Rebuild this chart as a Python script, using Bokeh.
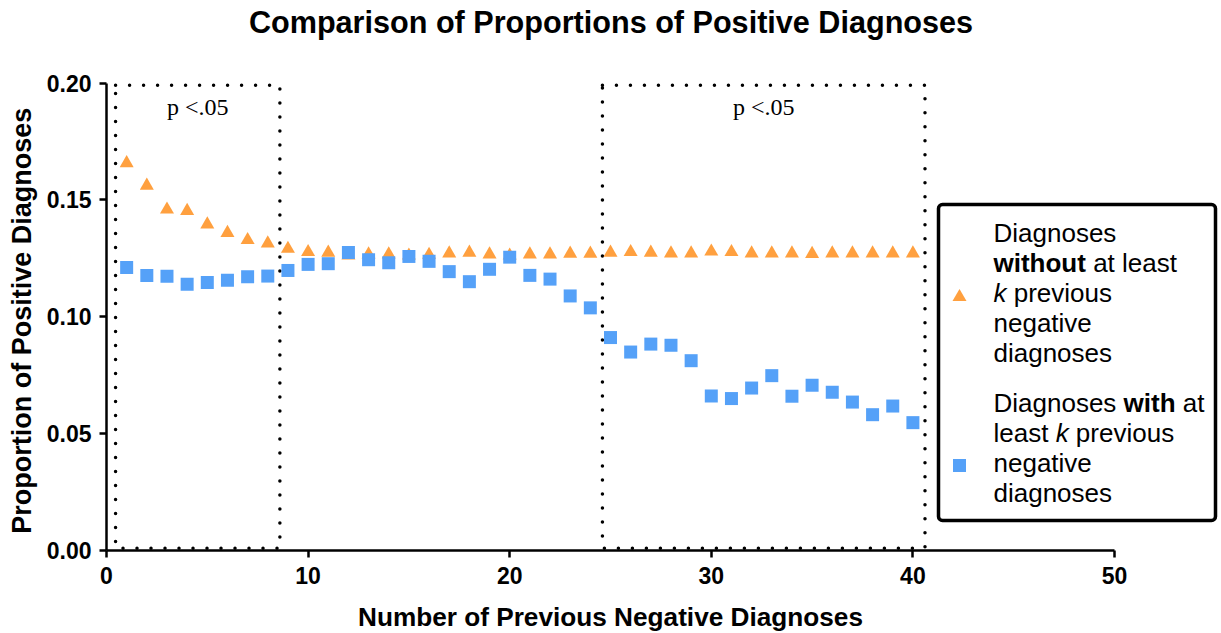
from bokeh.plotting import figure
from bokeh.models import Range1d, FixedTicker, NumeralTickFormatter, ColumnDataSource, BoxAnnotation
from bokeh.core.properties import value
from bokeh.embed import file_html
from bokeh.resources import INLINE

# ---------------- data ----------------
k_values = list(range(1, 41))
without_k = [0.1657, 0.1561, 0.1459, 0.1453, 0.1395, 0.1359, 0.1328, 0.1314, 0.1291, 0.1277,
             0.1274, 0.1262, 0.1267, 0.1267, 0.1262, 0.1265, 0.1271, 0.1274, 0.1267, 0.1262,
             0.1267, 0.1267, 0.1270, 0.1270, 0.1274, 0.1277, 0.1274, 0.1271, 0.1271, 0.1279,
             0.1277, 0.1271, 0.1271, 0.1271, 0.1269, 0.1271, 0.1271, 0.1271, 0.1271, 0.1271]
with_k = [0.1211, 0.1177, 0.1173, 0.1139, 0.1147, 0.1156, 0.1171, 0.1174, 0.1198, 0.1224,
          0.1227, 0.1275, 0.1244, 0.1231, 0.1258, 0.1237, 0.1193, 0.1150, 0.1203, 0.1255,
          0.1177, 0.1161, 0.1089, 0.1038, 0.0911, 0.0849, 0.0883, 0.0878, 0.0812, 0.0661,
          0.0650, 0.0695, 0.0748, 0.0660, 0.0707, 0.0677, 0.0635, 0.0581, 0.0618, 0.0547]
x_ticks = [0, 10, 20, 30, 40, 50]
y_ticks = [0.00, 0.05, 0.10, 0.15, 0.20]
sig_start = [0.45, 24.6]
sig_end = [8.6, 40.6]
sig_label = ["p <.05", "p <.05"]

title_text = "Comparison of Proportions of Positive Diagnoses"
x_label = "Number of Previous Negative Diagnoses"
y_label = "Proportion of Positive  Diagnoses"

# ---------------- style / layout ----------------
ORANGE = "#FFA03F"
BLUE = "#55A1F8"
SANS = "Liberation Sans"
SERIF = "Liberation Serif"

W, H = 1221, 633
AXIS_PX = 106               # pixel column of x = 0 (where the y axis sits)
Y0_PX = 550                 # pixel row of y = 0 (where the x axis sits)
YMAX_PX = 82.5              # pixel row of y = 0.20
TOP = 38
X_AXIS_MAX = 50
PX_PER_X = 1008 / X_AXIS_MAX
Y_MAX = 0.20
PX_PER_Y = (Y0_PX - YMAX_PX) / Y_MAX
x_start = -AXIS_PX / PX_PER_X
x_end = (W - AXIS_PX) / PX_PER_X
y_start = -(H - Y0_PX) / PX_PER_Y
y_end = (Y0_PX - TOP) / PX_PER_Y


def dx(px):
    return (px - AXIS_PX) / PX_PER_X


def dy(py):
    return (Y0_PX - py) / PX_PER_Y


p = figure(width=W, height=H, output_backend="svg", toolbar_location=None,
           x_range=Range1d(x_start, x_end), y_range=Range1d(y_start, y_end),
           min_border_left=0, min_border_right=0,
           min_border_top=TOP, min_border_bottom=0)
p.outline_line_color = None
p.xgrid.visible = False
p.ygrid.visible = False
p.background_fill_color = "white"
p.border_fill_color = "white"

p.title.text = title_text
p.title.text_font = SANS
p.title.text_font_size = "30.6px"
p.title.text_font_style = "bold"
p.title.text_color = "black"
p.title.align = "center"
p.title.standoff = 0

for ax in (p.xaxis[0], p.yaxis[0]):
    ax.fixed_location = 0
    ax.axis_line_color = "black"
    ax.axis_line_width = 2.5
    ax.major_tick_line_color = "black"
    ax.major_tick_line_width = 2.5
    ax.major_tick_out = 7
    ax.major_tick_in = 0
    ax.minor_tick_out = 0
    ax.minor_tick_in = 0
    ax.major_label_text_font = SANS
    ax.major_label_text_font_size = "23px"
    ax.major_label_text_font_style = "bold"
    ax.major_label_text_color = "black"
    ax.axis_label_text_font = SANS
    ax.axis_label_text_font_style = "bold"
    ax.axis_label_text_color = "black"

p.xaxis[0].ticker = FixedTicker(ticks=x_ticks)
p.xaxis[0].bounds = (0, X_AXIS_MAX)
p.xaxis[0].axis_label = x_label
p.xaxis[0].axis_label_text_font_size = "26.2px"
p.xaxis[0].major_label_standoff = 9
p.xaxis[0].axis_label_standoff = 15

p.yaxis[0].ticker = FixedTicker(ticks=y_ticks)
p.yaxis[0].formatter = NumeralTickFormatter(format="0.00")
p.yaxis[0].bounds = (0, Y_MAX)
p.yaxis[0].axis_label = y_label
p.yaxis[0].axis_label_text_font_size = "27px"
p.yaxis[0].major_label_standoff = 8
p.yaxis[0].axis_label_standoff = 7

# significance boxes (dotted)
box_top = 0.199
box_bottom = 0.001
p.quad(left=sig_start, right=sig_end, bottom=[box_bottom] * len(sig_start), top=[box_top] * len(sig_start),
       fill_color=None, line_color="black", line_width=3.5, line_dash="0 14", line_cap="round")
p.text(x=[(a + b) / 2 for a, b in zip(sig_start, sig_end)], y=[box_top] * len(sig_start), text=sig_label,
       text_font=value(SERIF), text_font_size="24px", text_color="black",
       text_align="center", text_baseline="alphabetic", y_offset=22)

# data series
src = ColumnDataSource(dict(k=k_values, without=without_k, withk=with_k))
p.scatter("k", "without", source=src, marker="triangle", size=14, fill_color=ORANGE, line_color=None)
p.scatter("k", "withk", source=src, marker="square", size=13, fill_color=BLUE, line_color=None)

# ---------------- legend (rich text, built by hand) ----------------
REG = {' ': 278, 'D': 722, 'a': 556, 'e': 556, 'g': 556, 'i': 222, 'n': 556, 'o': 556, 's': 500,
       't': 278, 'l': 222, 'p': 556, 'r': 333, 'v': 500, 'd': 556, 'h': 556, 'w': 722, 'u': 556, 'k': 500}
BOLD = {' ': 278, 'w': 778, 'i': 278, 't': 333, 'h': 611, 'o': 611, 'u': 611}
ITAL = {' ': 278, 'k': 500}
METRICS = {"normal": REG, "bold": BOLD, "italic": ITAL}
LEG_FS = 26


def seg_width(s, style):
    return sum(METRICS[style][c] for c in s) * LEG_FS / 1000.0


legend_entries = [
    (ORANGE, "triangle", 296.5, [
        [("Diagnoses", "normal")],
        [("without", "bold"), (" at least", "normal")],
        [("k", "italic"), (" previous", "normal")],
        [("negative", "normal")],
        [("diagnoses", "normal")],
    ], 232),
    (BLUE, "square", 465, [
        [("Diagnoses ", "normal"), ("with", "bold"), (" at", "normal")],
        [("least ", "normal"), ("k", "italic"), (" previous", "normal")],
        [("negative", "normal")],
        [("diagnoses", "normal")],
    ], 402),
]

LINE_H = 30
TEXT_X = 993
lx, ly, lt, ls = [], [], [], []
for color, marker, my, lines, base in legend_entries:
    p.scatter(x=[dx(959)], y=[dy(my)], marker=marker, size=14 if marker == "triangle" else 13,
              fill_color=color, line_color=None)
    for i, segs in enumerate(lines):
        cur = TEXT_X
        for s, style in segs:
            stripped = s.lstrip(" ")
            lead = seg_width(s[:len(s) - len(stripped)], style)
            txt = stripped.rstrip(" ")
            if txt:
                lx.append(dx(cur + lead))
                ly.append(dy(base + i * LINE_H))
                lt.append(txt)
                ls.append(style)
            cur += seg_width(s, style)

lsrc = ColumnDataSource(dict(x=lx, y=ly, text=lt, style=ls))
p.text("x", "y", text="text", source=lsrc, text_font=value(SANS), text_font_size=f"{LEG_FS}px",
       text_font_style="style", text_color="black", text_align="left", text_baseline="alphabetic")

p.add_layout(BoxAnnotation(left=dx(938), right=dx(1215), top=dy(204), bottom=dy(520),
                           fill_color=None, line_color="black", line_alpha=1.0, line_width=3.5,
                           border_radius=4))

open("out.html", "w").write(file_html(p, INLINE))
